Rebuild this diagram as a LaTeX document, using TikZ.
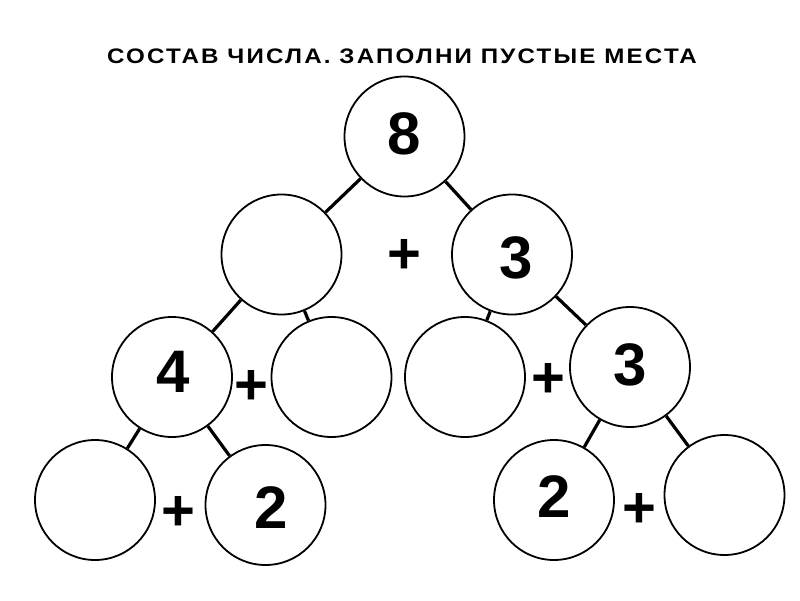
\documentclass[tikz,border=0pt]{standalone}
\usepackage{fontspec}
\setmainfont{Liberation Sans}
\begin{document}
\begin{tikzpicture}[x=1pt,y=-1pt,
  ball/.style={circle,draw=black,line width=1.8pt,minimum size=120pt,inner sep=0pt,fill=white},
  digit/.style={inner sep=0pt,font=\fontsize{60}{60}\selectfont\bfseries},
  plus/.style={inner sep=0pt,font=\fontsize{58}{58}\selectfont\bfseries},
  link/.style={line width=3.2pt,black}]
\path[use as bounding box,fill=white] (0,0) rectangle (800,600);
\node[inner sep=0pt,xscale=1.15,font=\fontsize{21}{21}\selectfont\bfseries\addfontfeature{LetterSpace=9}] (title) at (402,56) {СОСТАВ ЧИСЛА. ЗАПОЛНИ ПУСТЫЕ МЕСТА};
% circles
\node[ball] (a) at (404.5,136.5) {};
\node[ball] (b) at (281.5,254.5) {};
\node[ball] (c) at (512,254.5) {};
\node[ball] (d) at (172,377) {};
\node[ball] (e) at (331.5,377) {};
\node[ball] (f) at (465,377) {};
\node[ball] (g) at (630,367) {};
\node[ball] (h) at (95,500) {};
\node[ball] (i) at (265.5,505) {};
\node[ball] (j) at (554,500) {};
\node[ball] (k) at (724.5,495) {};
% connectors
\draw[link] (a) -- (b);
\draw[link] (a) -- (c);
\draw[link] (b) -- (d);
\draw[link] (b) -- (e);
\draw[link] (c) -- (f);
\draw[link] (c) -- (g);
\draw[link] (d) -- (h);
\draw[link] (d) -- (i);
\draw[link] (g) -- (j);
\draw[link] (g) -- (k);
% numbers
\node[digit] (na) at (404,133.5) {8};
\node[digit] (nc) at (516,257.5) {3};
\node[digit] (nd) at (173,372) {4};
\node[digit] (ng) at (630,365) {3};
\node[digit] (ni) at (271.5,508) {2};
\node[digit] (nj) at (554.5,497) {2};
% plus signs
\node[plus] (p1) at (404,256) {+};
\node[plus] (p2) at (251,387) {+};
\node[plus] (p3) at (178,513) {+};
\node[plus] (p4) at (548,380) {+};
\node[plus] (p5) at (639,510) {+};
\end{tikzpicture}
\end{document}
